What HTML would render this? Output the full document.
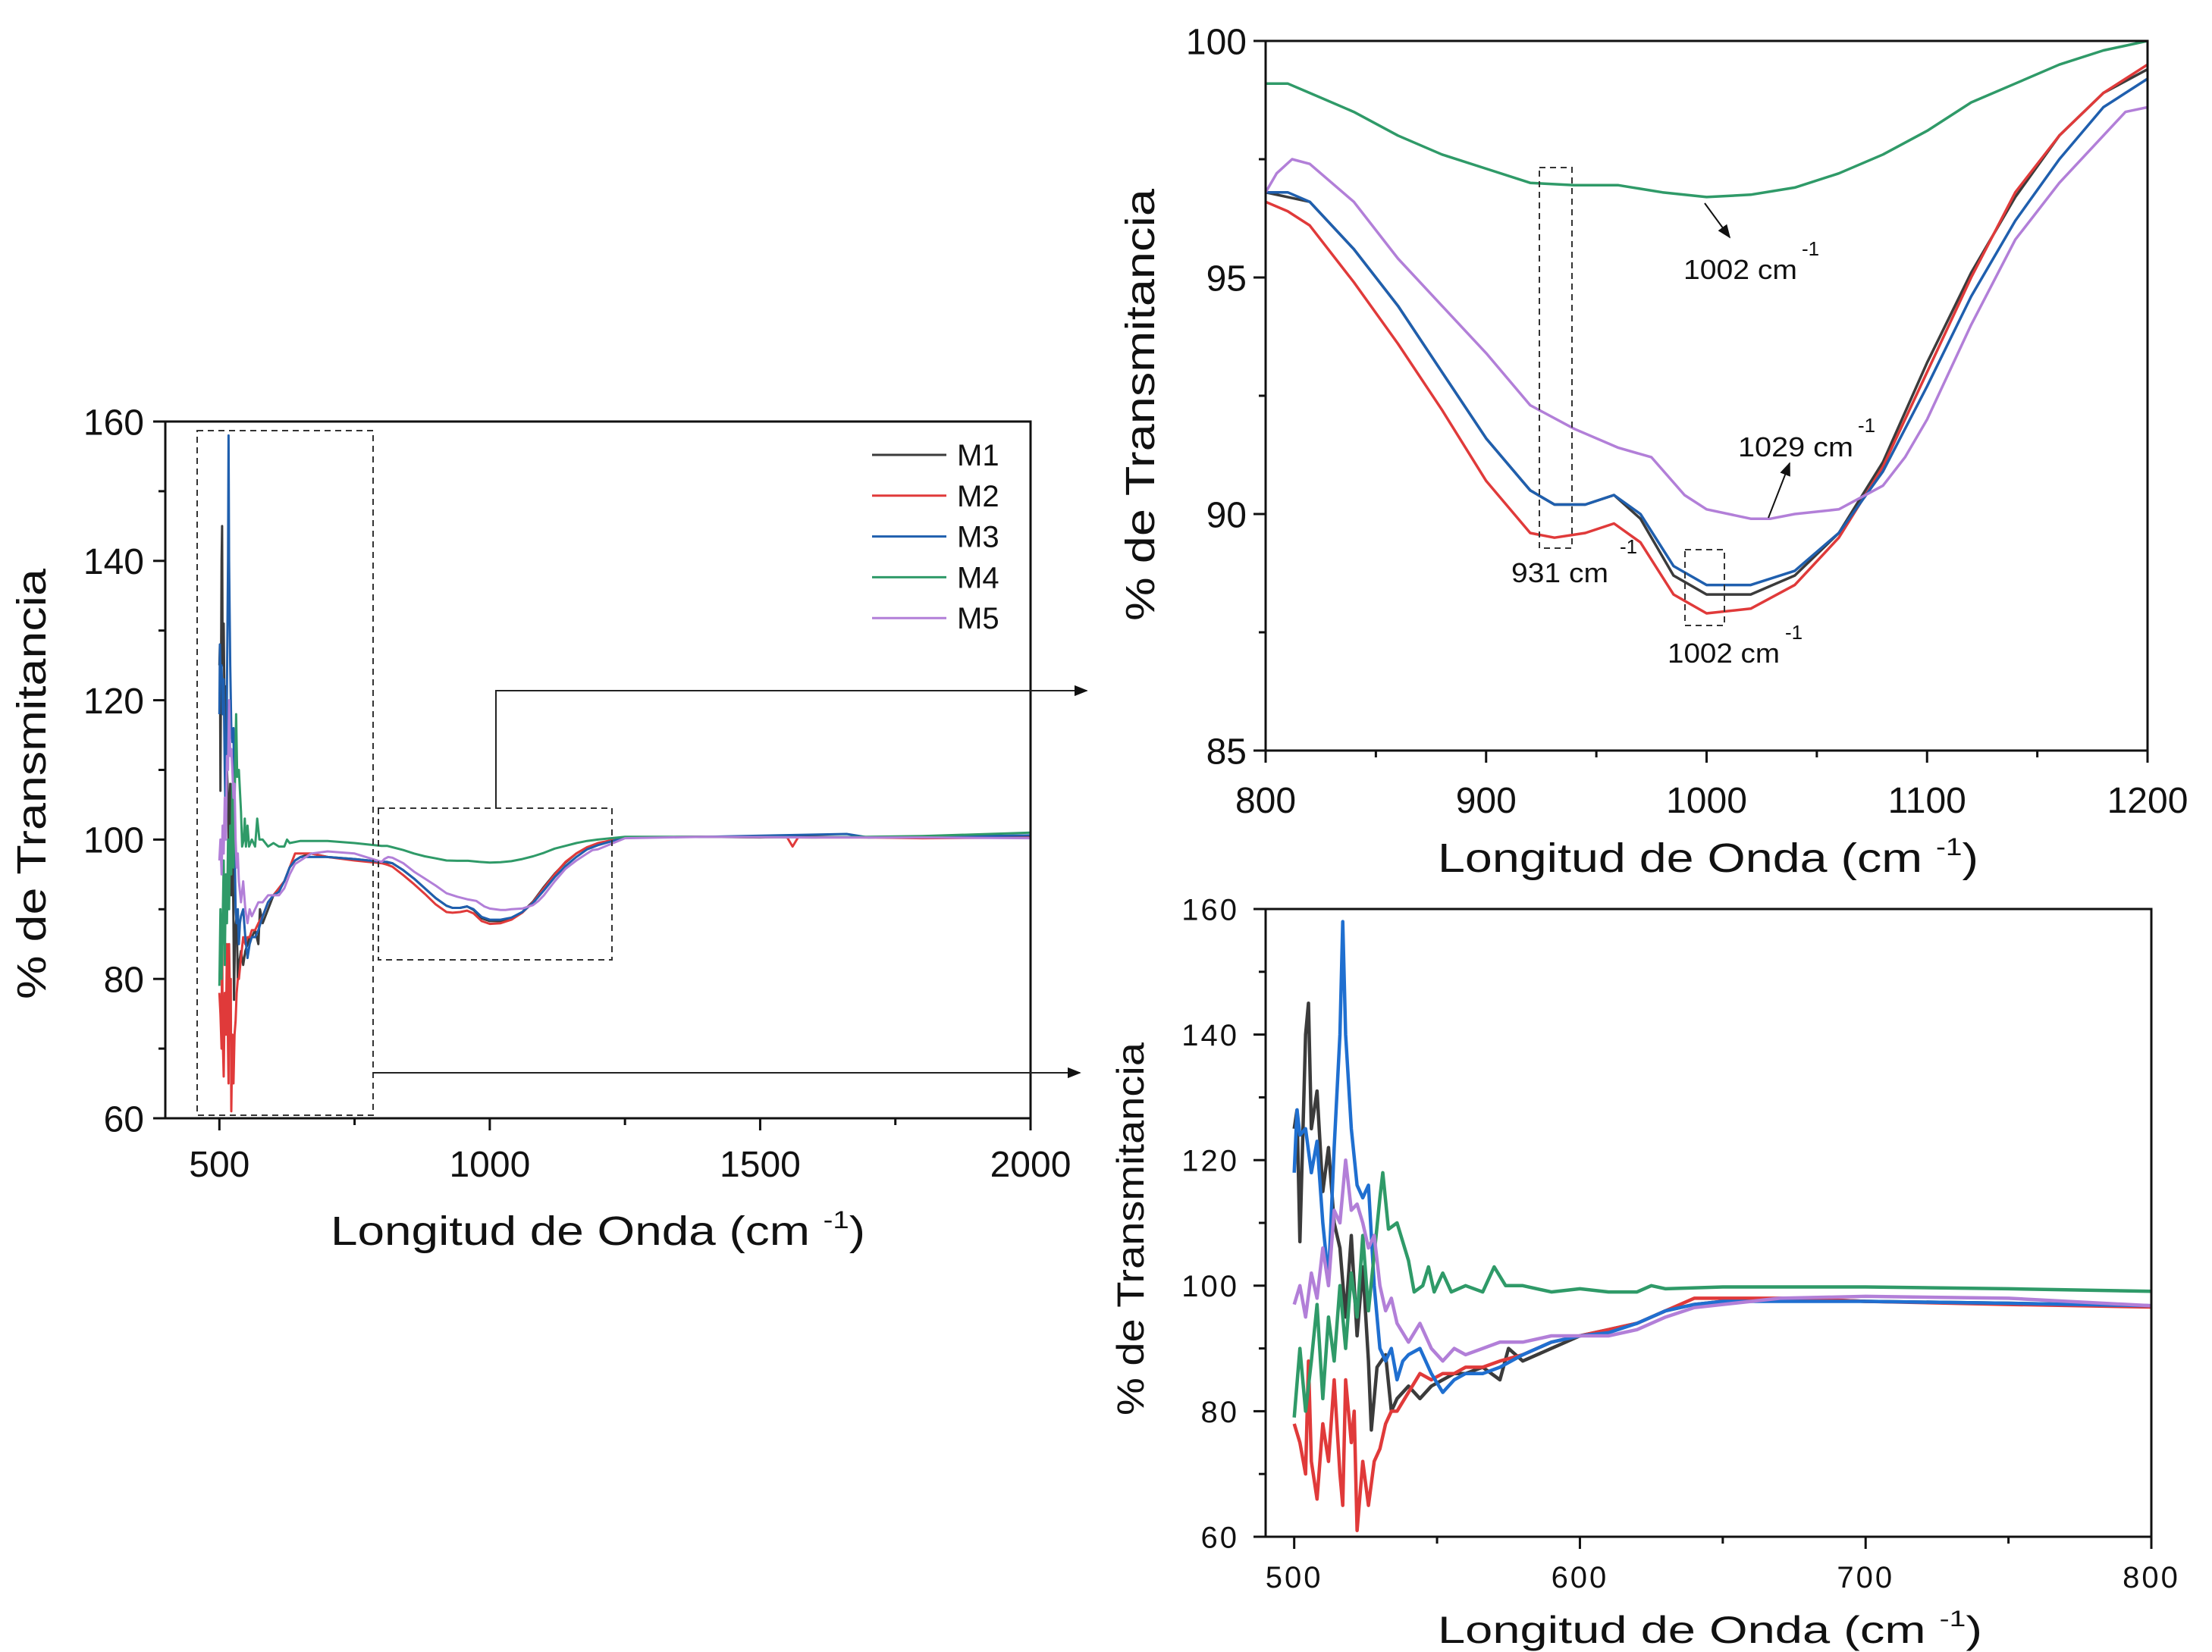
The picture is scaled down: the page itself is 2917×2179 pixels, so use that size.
<!DOCTYPE html>
<html><head><meta charset="utf-8"><style>
html,body{margin:0;padding:0;background:#fff}
svg{display:block}
text{font-family:"Liberation Sans",Arial,sans-serif;fill:#111}
.nar{font-family:"Liberation Sans Narrow","Liberation Sans",sans-serif}
</style></head><body>
<svg id="fig" width="2917" height="2179" viewBox="0 0 2917 2179" xmlns="http://www.w3.org/2000/svg">
<defs>
<marker id="ah" viewBox="0 0 10 10" refX="9" refY="5" markerWidth="9" markerHeight="9" orient="auto"><path d="M0,1 L10,5 L0,9 z" fill="#111"/></marker>
</defs>
<g id="layer"></g>
</svg>
<script>
// ---- data (wavenumber cm-1, % transmittance) ----
const m1X=[500,501,502,504,505,506,508,510,512,514,516,518,520,522,524,526,527,529,532,534,536,540,544,548,552,556,560,566,572,575,580,590,600,610,620,630,640,650,670,700,750,800,820,840,860,880,900,920,931,945,958,970,985,1000,1020,1040,1060,1080,1100,1120,1140,1160,1180,1200,1250,1400,1500,1600,1700,1800,2000];
const m1Y=[125,128,107,140,145,125,131,115,122,110,106,95,108,92,103,88,77,87,89,80,82,84,82,84,85,86,86,87,85,90,88,90,92,93,94,96,97,97.5,98,97.5,97.2,96.8,96.6,95.6,94.4,93.0,91.6,90.5,90.2,90.2,90.4,89.9,88.7,88.3,88.3,88.7,89.6,91.1,93.2,95.1,96.7,98.0,98.9,99.4,100.3,100.4,100.3,100.4,100.3,100.4,100.5];
const m2X=[500,502,504,505,506,508,510,512,514,516,517,518,520,521,522,524,526,528,530,532,534,536,540,544,548,552,556,560,566,572,580,590,600,610,620,630,640,650,670,700,750,800,810,820,840,860,880,900,920,931,945,958,970,985,1000,1020,1040,1060,1080,1100,1120,1140,1160,1180,1200,1250,1400,1550,1560,1570,1700,1800,2000];
const m2Y=[78,75,70,88,72,66,78,72,85,70,65,85,75,80,61,72,65,72,74,78,80,80,83,86,85,86,86,87,87,88,89,91,92,93,94,96,98,98,98,97.5,97,96.6,96.4,96.1,94.9,93.6,92.2,90.7,89.6,89.5,89.6,89.8,89.4,88.3,87.9,88.0,88.5,89.5,91.0,93.0,95.0,96.8,98.0,98.9,99.5,100.3,100.4,100.3,99.0,100.3,100.3,100.2,100.3];
const m3X=[500,501,502,504,506,508,510,512,514,516,517,518,520,522,524,526,528,530,532,534,536,538,540,544,548,552,556,560,566,572,580,590,600,610,620,630,640,650,670,700,750,800,810,820,840,860,880,900,920,931,945,958,970,985,1000,1020,1040,1060,1080,1100,1120,1140,1160,1180,1200,1250,1400,1660,1700,1800,2000];
const m3Y=[118,128,124,125,118,123,110,101,122,140,158,140,125,116,114,116,100,90,88,90,85,88,89,90,86,83,85,86,86,87,89,91,92,92.5,94,96,97,97.5,97.5,97.5,97.2,96.8,96.8,96.6,95.6,94.4,93.0,91.6,90.5,90.2,90.2,90.4,90.0,88.9,88.5,88.5,88.8,89.6,90.9,92.7,94.6,96.2,97.5,98.6,99.2,100.3,100.4,100.8,100.3,100.4,100.6];
const m4X=[500,502,504,506,508,510,512,514,516,518,520,522,524,526,528,530,531,533,536,540,542,545,547,549,552,555,560,566,570,574,580,590,600,610,620,625,630,650,700,750,800,810,820,840,860,880,900,920,940,960,980,1000,1020,1040,1060,1080,1100,1120,1140,1160,1180,1200,1250,1400,1600,1800,2000];
const m4Y=[79,90,80,88,97,82,95,88,100,90,102,95,108,96,105,114,118,109,110,104,99,100,103,99,102,99,100,99,103,100,100,99,99.5,99,99,100,99.5,99.8,99.8,99.5,99.1,99.1,98.9,98.5,98.0,97.6,97.3,97.0,96.95,96.95,96.8,96.7,96.75,96.9,97.2,97.6,98.1,98.7,99.1,99.5,99.8,100.0,100.4,100.4,100.3,100.5,101.0];
const m5X=[500,502,504,506,508,510,512,514,516,518,520,522,524,526,528,530,532,534,536,540,544,548,552,556,560,566,572,580,590,600,610,620,630,640,650,670,700,750,800,805,812,820,840,860,880,900,920,940,960,975,990,1000,1020,1029,1040,1060,1080,1090,1100,1120,1140,1160,1180,1190,1200,1250,1400,1600,1800,2000];
const m5Y=[97,100,95,102,98,106,100,112,110,120,112,113,110,106,108,100,96,98,94,91,94,90,88,90,89,90,91,91,92,92,92,93,95,96.5,97,98,98.3,98,96.8,97.2,97.5,97.4,96.6,95.4,94.4,93.4,92.3,91.8,91.4,91.2,90.4,90.1,89.9,89.9,90.0,90.1,90.6,91.2,92.0,94.0,95.8,97.0,98.0,98.5,98.6,100.2,100.4,100.3,100.3,100.2];
const seriesNames=["M1","M2","M3","M4","M5"];
const mainXTicks=[500,1000,1500,2000];
const mainYTicks=[60,80,100,120,140,160];
const zoomAXTicks=[800,900,1000,1100,1200];
const zoomAYTicks=[85,90,95,100];
const zoomBXTicks=[500,600,700,800];
const zoomBYTicks=[60,80,100,120,140,160];

const colors=["#3b3b3b","#e03a3a","#1f5fae","#2f9a68","#b27fd8"];
const colorsB=["#3b3b3b","#e03a3a","#1f6fd0","#2f9a68","#b27fd8"];
const allX=[m1X,m2X,m3X,m4X,m5X], allY=[m1Y,m2Y,m3Y,m4Y,m5Y];
const NS="http://www.w3.org/2000/svg";
const layer=document.getElementById('layer');
function mk(tag,attrs,parent){const e=document.createElementNS(NS,tag);for(const k in attrs)e.setAttribute(k,attrs[k]);(parent||layer).appendChild(e);return e;}

function plot(cfg){
  const g=mk('g',{});
  
  
  const sx=v=>cfg.x0+(v-cfg.xd[0])/(cfg.xd[1]-cfg.xd[0])*(cfg.x1-cfg.x0);
  const sy=v=>cfg.y1-(v-cfg.yd[0])/(cfg.yd[1]-cfg.yd[0])*(cfg.y1-cfg.y0);
  const cp=mk('clipPath',{id:cfg.name+'-clip'},g);
  mk('rect',{x:cfg.x0,y:cfg.y0,width:cfg.x1-cfg.x0,height:cfg.y1-cfg.y0},cp);
  const lines=mk('g',{'clip-path':'url(#'+cfg.name+'-clip)'},g);
  for(let s=0;s<5;s++){
    const xs=allX[s],ys=allY[s];let d='';
    for(let i=0;i<xs.length;i++){if(xs[i]<cfg.xd[0]-30||xs[i]>cfg.xd[1]+30)continue;d+=(d?'L':'M')+sx(xs[i]).toFixed(1)+','+sy(ys[i]).toFixed(1);}
    const p=mk('path',{d:d,fill:'none',stroke:cfg.colors[s],'stroke-width':cfg.lw,'stroke-linejoin':'round'},lines);
    
    
  }
  const fr=mk('rect',{x:cfg.x0,y:cfg.y0,width:cfg.x1-cfg.x0,height:cfg.y1-cfg.y0,fill:'none',stroke:'#111','stroke-width':3},g);
  
  
  const xt=cfg.xTicks, yt=cfg.yTicks;
  const xstep=xt[1]-xt[0], ystep=yt[1]-yt[0];
  for(let v=xt[0]-xstep;v<=cfg.xd[1]+1;v+=xstep/2){
    if(v<cfg.xd[0]-0.01)continue;
    const major=xt.includes(v);
    mk('line',{x1:sx(v),x2:sx(v),y1:cfg.y1,y2:cfg.y1+(major?16:9),stroke:'#111','stroke-width':3},g);
  }
  for(let v=yt[0];v<=cfg.yd[1]+0.01;v+=ystep/2){
    const major=yt.includes(v);
    mk('line',{x1:cfg.x0,x2:cfg.x0-(major?16:9),y1:sy(v),y2:sy(v),stroke:'#111','stroke-width':3},g);
  }
  xt.forEach(v=>{const t=mk('text',{x:sx(v),y:cfg.xlabY,'text-anchor':'middle','font-size':cfg.tf,'letter-spacing':cfg.ls||0},g);t.textContent=v;
    });
  yt.forEach(v=>{const t=mk('text',{x:cfg.ylabX,y:sy(v)+cfg.tf*0.36,'text-anchor':'end','font-size':cfg.tf,'letter-spacing':cfg.ls||0},g);t.textContent=v;
    });
  const xtit=mk('text',{x:cfg.xtx0,y:cfg.xtY,'font-size':cfg.ttf,textLength:cfg.xtLen,lengthAdjust:'spacingAndGlyphs'},g);
  
  xtit.innerHTML='Longitud de Onda (cm <tspan dy="-22" font-size="'+(cfg.ttf*0.6)+'">-1</tspan><tspan dy="22">)</tspan>';
  const ytit=mk('text',{x:0,y:0,'font-size':cfg.ttf,'text-anchor':'middle',transform:'translate('+cfg.ytX+','+cfg.ytY+') rotate(-90)',textLength:cfg.ytLen,lengthAdjust:'spacingAndGlyphs'},g);
  
  ytit.textContent='% de Transmitancia';
  return {sx,sy,g};
}

const main=plot({name:'main-spectrum-chart',x0:218,x1:1359,y0:556,y1:1475,xd:[400,2000],yd:[60,160],xTicks:mainXTicks,yTicks:mainYTicks,
  colors:colors,lw:3,tf:48,ttf:54,xlabY:1552,ylabX:190,xtx0:436,xtY:1642,xtLen:705,ytX:60,ytY:1034,ytLen:568});
const za=plot({name:'zoom-800-1200-chart',x0:1669,x1:2832,y0:54,y1:990,xd:[800,1200],yd:[85,100],xTicks:zoomAXTicks,yTicks:zoomAYTicks,
  colors:colors,lw:3.5,tf:48,ttf:54,xlabY:1072,ylabX:1644,xtx0:1896,xtY:1150,xtLen:713,ytX:1522,ytY:534,ytLen:570});
const zb=plot({name:'zoom-500-800-chart',x0:1669,x1:2837,y0:1199,y1:2027,xd:[490,800],yd:[60,160],xTicks:zoomBXTicks,yTicks:zoomBYTicks,
  colors:colorsB,lw:4.5,tf:40,ttf:50,ls:3,xlabY:2094,ylabX:1634,xtx0:1896,xtY:2167,xtLen:718,ytX:1508,ytY:1621,ytLen:492});

for(let s=0;s<5;s++){
  const y=600+s*53.8;
  const l=mk('line',{x1:1150,x2:1248,y1:y,y2:y,stroke:colors[s],'stroke-width':3});
  
  
  const t=mk('text',{x:1262,y:y+14,'font-size':40,class:'nar'});t.textContent=seriesNames[s];
  
  
}
function dbox(x,y,w,h,name){const r=mk('rect',{x:x,y:y,width:w,height:h,fill:'none',stroke:'#333','stroke-width':2,'stroke-dasharray':'8,6'});
  }
dbox(260,568,232,903,'zoom-region-500-800-box');
dbox(499,1066,308,200,'zoom-region-800-1200-box');
dbox(2030,221,43,502,'band-931-box');
dbox(2222,725,52,100,'band-1002-box');
const c1=mk('path',{d:'M654,1066 L654,911 L1433,911',fill:'none',stroke:'#222','stroke-width':2,'marker-end':'url(#ah)'});

const c2=mk('path',{d:'M492,1415 L1424,1415',fill:'none',stroke:'#222','stroke-width':2,'marker-end':'url(#ah)'});

const a1=mk('path',{d:'M2248,268 L2281,313',stroke:'#111','stroke-width':2,'marker-end':'url(#ah)'});

const a2=mk('path',{d:'M2332,683 L2360,611',stroke:'#111','stroke-width':2,'marker-end':'url(#ah)'});

function ann(x,y,num,name,w,sx,sy){const t=mk('text',{x:x,y:y,'font-size':36,class:'nar',textLength:w,lengthAdjust:'spacingAndGlyphs'});t.textContent=num+' cm';
  
  const s=mk('text',{x:sx,y:sy,'font-size':26,class:'nar'});s.textContent='-1';
  }
ann(2220,368,'1002','annotation-1002-m4',150,2376,337);
ann(2292,602,'1029','annotation-1029',152,2450,570);
ann(1993,768,'931','annotation-931',128,2136,730);
ann(2199,874,'1002','annotation-1002',148,2354,843);
</script>
</body></html>
